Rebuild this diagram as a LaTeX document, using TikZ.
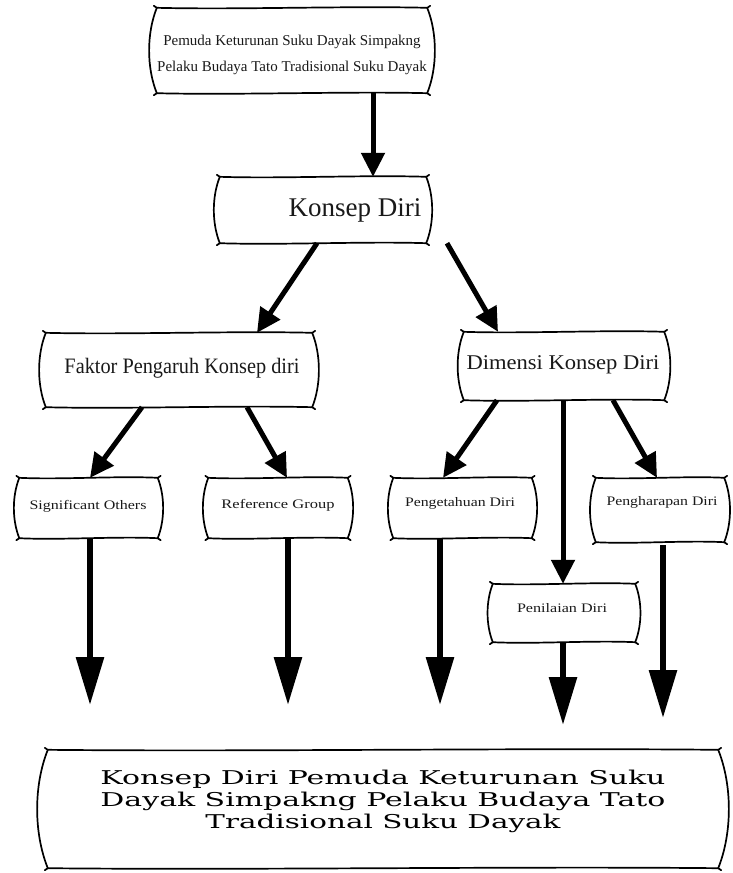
\documentclass[tikz,border=0pt]{standalone}
\usepackage{fontspec}
\usepackage{graphicx}
\setmainfont{Liberation Serif}
\newfontfamily\widefont{DejaVu Serif}
\usetikzlibrary{arrows.meta,calc}
\newcommand\fw[2]{\resizebox{#1pt}{\height}{#2}}
\newcommand\scrollshape[1]{%
  \draw[scrollline] let \p1=(#1.north west), \p2=(#1.south east),
      \n1={\y1-\y2}, \n2={\x2-\x1}, \n3={0.12*(\y1-\y2)} in
    (\x1,\y1) .. controls ({\x1+0.3*\n2},{\y1-2pt}) and ({\x1+0.7*\n2},{\y1+2pt}) .. (\x2,\y1)
    .. controls ({\x2+\n3},{\y1-0.3*\n1}) and ({\x2+\n3},{\y2+0.3*\n1}) .. (\x2,\y2)
    .. controls ({\x1+0.7*\n2},{\y2+2pt}) and ({\x1+0.3*\n2},{\y2-2pt}) .. (\x1,\y2)
    .. controls ({\x1-\n3},{\y2+0.3*\n1}) and ({\x1-\n3},{\y1-0.3*\n1}) .. cycle
    (\x1,\y1) -- ++(-3pt,2pt) (\x2,\y1) -- ++(3pt,2pt)
    (\x2,\y2) -- ++(3pt,-2pt) (\x1,\y2) -- ++(-3pt,-2pt);
}
\tikzset{
  scrollline/.style={draw=black, line width=1.7pt, line join=round, line cap=round},
  area/.style={draw=none, inner sep=0pt},
  lbl/.style={inner sep=0pt, align=center, text=black!90},
  arr/.style={line width=5pt, -{Triangle[length=24pt,width=23pt]}},
  longarr/.style={line width=6pt, -{Triangle[length=48pt,width=27pt]}},
}
\begin{document}
\begin{tikzpicture}[x=1pt,y=-1pt]
\useasboundingbox (0,0) rectangle (733,873);
% box areas
\node[area, minimum width=270pt, minimum height=85pt] (top) at (292,50.5) {};
\node[area, minimum width=206pt, minimum height=66pt] (konsep) at (323,210) {};
\node[area, minimum width=266pt, minimum height=74pt] (faktor) at (179,370) {};
\node[area, minimum width=200pt, minimum height=68pt] (dimensi) at (564,366) {};
\node[area, minimum width=138pt, minimum height=60pt] (sig) at (88.5,508) {};
\node[area, minimum width=139pt, minimum height=60pt] (ref) at (278,508) {};
\node[area, minimum width=138pt, minimum height=60pt] (peng) at (462.5,508) {};
\node[area, minimum width=128pt, minimum height=64pt] (harap) at (660,510) {};
\node[area, minimum width=142pt, minimum height=58pt] (nilai) at (564,613) {};
\node[area, minimum width=670pt, minimum height=118pt] (bottom) at (383,809) {};
% texts
\node[lbl, font=\fontsize{15}{26}\selectfont] (toptext) at (292,55)
  {Pemuda Keturunan Suku Dayak Simpakng\\Pelaku Budaya Tato Tradisional Suku Dayak};
\node[lbl, font=\fontsize{27}{30}\selectfont] (konseptext) at (355,210) {Konsep Diri};
\node[lbl, font=\fontsize{22}{24}\selectfont] (faktortext) at (182,368) {\fw{235}{Faktor Pengaruh Konsep diri}};
\node[lbl, font=\fontsize{21}{24}\selectfont] (dimensitext) at (563,365) {\fw{193}{Dimensi Konsep Diri}};
\node[lbl, font=\fontsize{13}{16}\selectfont] (sigtext) at (88,506) {\fw{117}{Significant Others}};
\node[lbl, font=\fontsize{13}{16}\selectfont] (reftext) at (278,505) {\fw{113}{Reference Group}};
\node[lbl, font=\fontsize{13}{16}\selectfont] (pengtext) at (460,503) {\fw{110}{Pengetahuan Diri}};
\node[lbl, font=\fontsize{13}{16}\selectfont] (haraptext) at (662,502) {\fw{111}{Pengharapan Diri}};
\node[lbl, font=\fontsize{13}{16}\selectfont] (nilaitext) at (562,608) {\fw{90}{Penilaian Diri}};
\node[lbl, text=black, font=\widefont\fontsize{19}{22}\selectfont] (bottomtext) at (383,801)
  {\fw{565}{Konsep Diri Pemuda Keturunan Suku}\\\fw{565}{Dayak Simpakng Pelaku Budaya Tato}\\\fw{355}{Tradisional Suku Dayak}};
% shapes
\scrollshape{top}
\scrollshape{konsep}
\scrollshape{faktor}
\scrollshape{dimensi}
\scrollshape{sig}
\scrollshape{ref}
\scrollshape{peng}
\scrollshape{harap}
\scrollshape{nilai}
\scrollshape{bottom}
% free ends
\coordinate (sigEnd) at (90,705);
\coordinate (refEnd) at (288,705);
\coordinate (pengEnd) at (440,705);
\coordinate (nilaiEnd) at (563,725);
\coordinate (harapEnd) at (663,718);
% arrows
\draw[arr] ([xshift=81pt]top.south) -- ([xshift=50pt]konsep.north);
\draw[arr] ([xshift=-6pt]konsep.south) -- ([xshift=78pt]faktor.north);
\draw[arr] ([xshift=124pt]konsep.south) -- ([xshift=-66pt]dimensi.north);
\draw[arr] ([xshift=-37pt]faktor.south) -- ([xshift=1.5pt]sig.north);
\draw[arr] ([xshift=68pt]faktor.south) -- ([xshift=9pt]ref.north);
\draw[arr] ([xshift=-67pt]dimensi.south) -- ([xshift=-19.5pt]peng.north);
\draw[arr] ([xshift=-1pt]dimensi.south) -- ([xshift=-1pt]nilai.north);
\draw[arr] ([xshift=49pt]dimensi.south) -- ([xshift=-3pt]harap.north);
\draw[longarr] ([xshift=1.5pt]sig.south) -- (sigEnd);
\draw[longarr] ([xshift=10pt]ref.south) -- (refEnd);
\draw[longarr] ([xshift=-22.5pt]peng.south) -- (pengEnd);
\draw[longarr] ([xshift=-1pt]nilai.south) -- (nilaiEnd);
\draw[longarr] ([xshift=3pt,yshift=-3pt]harap.south) -- (harapEnd);
\end{tikzpicture}
\end{document}
